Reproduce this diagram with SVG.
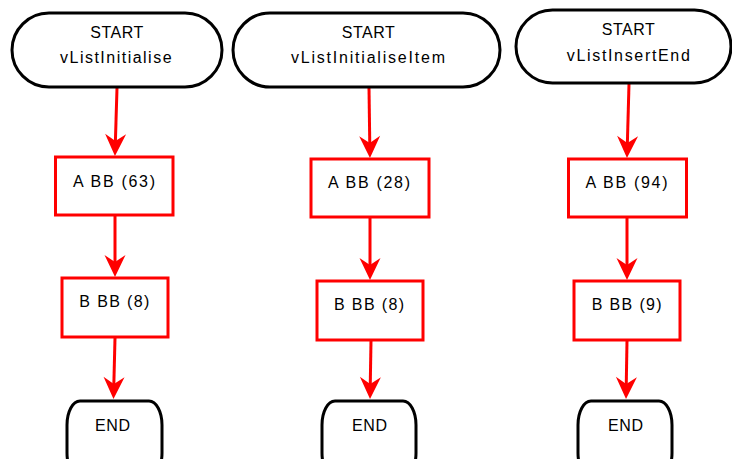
<svg xmlns="http://www.w3.org/2000/svg" width="732" height="459" viewBox="0 0 732 459">
  <style>
    .term { fill: #ffffff; stroke: #000000; stroke-width: 3; }
    .bb { fill: #ffffff; stroke: #ff0000; stroke-width: 3; }
    .lbl { font-family: "Liberation Sans", Arial, sans-serif; font-size: 16px; fill: #000000; text-anchor: middle; }
    .edge { fill: none; stroke: #ff0000; stroke-width: 3; marker-end: url(#arrow); }
  </style>
  <defs>
    <!-- notched arrowhead; tip sits 5px beyond the line end -->
    <marker id="arrow" markerUnits="userSpaceOnUse" viewBox="-24 -12 30 24" markerWidth="30" markerHeight="24" refX="-5" refY="0" orient="auto">
      <path d="M0,0 L-22,-10.5 L-15,0 L-22,10.5 Z" fill="#ff0000"/>
    </marker>
  </defs>
  <rect width="732" height="459" fill="#ffffff"/>

  <!-- connectors -->
  <g id="edges">
    <path class="edge" d="M117,88 L115.1,151"/>
    <path class="edge" d="M115,216 L115,272"/>
    <path class="edge" d="M115,338 L113.6,394"/>
    <path class="edge" d="M369,88 L369.9,153"/>
    <path class="edge" d="M370,218 L370,275"/>
    <path class="edge" d="M371,341 L370.1,394"/>
    <path class="edge" d="M629,84 L627.1,153"/>
    <path class="edge" d="M627,218 L627,275"/>
    <path class="edge" d="M627,341 L626.1,394"/>
  </g>

  <!-- vListInitialise -->
  <g id="start1">
    <rect class="term" x="12" y="13" width="210" height="74" rx="37" ry="37"/>
    <text class="lbl" x="116.7" y="38" textLength="53" lengthAdjust="spacing">START</text>
    <text class="lbl" x="115.8" y="62.5" textLength="111.5" lengthAdjust="spacing">vListInitialise</text>
  </g>
  <g id="a1">
    <rect class="bb" x="55.5" y="157" width="117.5" height="58"/>
    <text class="lbl" x="114" y="186.5" textLength="82" lengthAdjust="spacing">A BB (63)</text>
  </g>
  <g id="b1">
    <rect class="bb" x="62" y="278" width="106" height="59"/>
    <text class="lbl" x="114.3" y="307" textLength="70" lengthAdjust="spacing">B BB (8)</text>
  </g>
  <g id="end1">
    <rect class="term" x="67" y="401" width="95" height="76" rx="13" ry="24"/>
    <text class="lbl" x="112.5" y="431" textLength="35" lengthAdjust="spacing">END</text>
  </g>

  <!-- vListInitialiseItem -->
  <g id="start2">
    <rect class="term" x="233" y="13" width="267" height="74" rx="37" ry="37"/>
    <text class="lbl" x="368.3" y="38" textLength="53" lengthAdjust="spacing">START</text>
    <text class="lbl" x="368" y="63" textLength="154" lengthAdjust="spacing">vListInitialiseItem</text>
  </g>
  <g id="a2">
    <rect class="bb" x="311" y="159" width="118" height="58"/>
    <text class="lbl" x="369" y="188" textLength="82" lengthAdjust="spacing">A BB (28)</text>
  </g>
  <g id="b2">
    <rect class="bb" x="317" y="281" width="106" height="59"/>
    <text class="lbl" x="369" y="310" textLength="70" lengthAdjust="spacing">B BB (8)</text>
  </g>
  <g id="end2">
    <rect class="term" x="322" y="401" width="94" height="76" rx="13" ry="24"/>
    <text class="lbl" x="369.5" y="431" textLength="35" lengthAdjust="spacing">END</text>
  </g>

  <!-- vListInsertEnd -->
  <g id="start3">
    <rect class="term" x="516" y="10" width="215" height="73" rx="36.5" ry="36.5"/>
    <text class="lbl" x="628.3" y="35" textLength="53" lengthAdjust="spacing">START</text>
    <text class="lbl" x="628.3" y="60.5" textLength="123" lengthAdjust="spacing">vListInsertEnd</text>
  </g>
  <g id="a3">
    <rect class="bb" x="568.5" y="159" width="118" height="58"/>
    <text class="lbl" x="626.5" y="188" textLength="82" lengthAdjust="spacing">A BB (94)</text>
  </g>
  <g id="b3">
    <rect class="bb" x="574" y="281" width="106" height="59"/>
    <text class="lbl" x="626.7" y="310" textLength="70" lengthAdjust="spacing">B BB (9)</text>
  </g>
  <g id="end3">
    <rect class="term" x="578" y="401" width="94" height="76" rx="13" ry="24"/>
    <text class="lbl" x="625.5" y="431" textLength="35" lengthAdjust="spacing">END</text>
  </g>
</svg>
